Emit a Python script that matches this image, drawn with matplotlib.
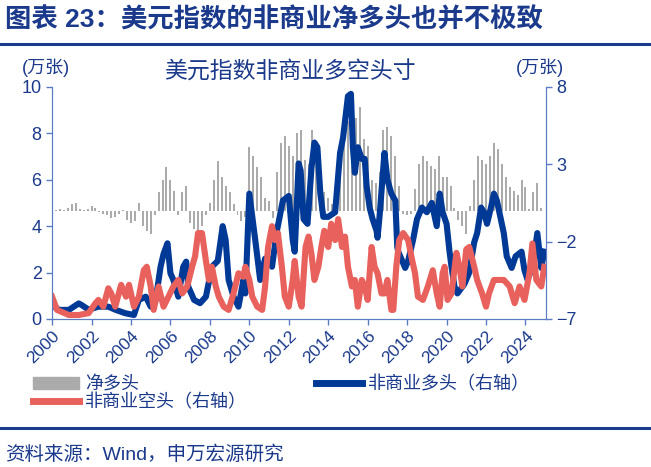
import matplotlib
matplotlib.use("Agg")
import matplotlib.pyplot as plt
import numpy as np
from matplotlib.patches import Patch
from matplotlib.lines import Line2D

plt.rcParams['font.family'] = ['Liberation Sans', 'Noto Sans CJK SC', 'DejaVu Sans']

# 净多头 (right axis, 万张), one bar every 0.2 year from 2000.0
net_start = 2000.0
net_step = 0.2
net = [0.1, 0.05, 0.1, 0.05, 0.15,
       0.4, 0.5, 0.1, 0.05, 0.1,
       0.3, 0.15, -0.1, -0.2, -0.3,
       -0.5, -0.4, -0.2, 0.05, -0.6,
       -0.8, -0.7, 0.5, -1.0, -1.3,
       -1.5, -0.3, 1.2, 2.0, 2.8,
       2.0, 1.3, -0.3, 1.2, 1.6,
       -0.8, -1.2, -1.4, -1.0, -0.3,
       0.5, 2.0, 3.2, 2.2, 1.6,
       1.2, 0.4, -0.3, -0.7, -0.4,
       4.1, 3.5, 2.8, 2.2, 0.8,
       0.6, -0.5, 2.5, 4.4, 4.8,
       4.2, 3.5, 5.0, 5.2, 3.3,
       3.0, 5.2, 3.5, 2.9, 1.2,
       0.8, 0.4, 0.4, 3.5, 5.4,
       5.8, 5.5, 6.0, 6.7, 4.6,
       4.2, 2.0, 1.8, 2.5, 5.2,
       5.4, 4.8, 3.5, 1.6, -0.2,
       -0.3, -0.2, 1.4, 3.0, 3.5,
       3.2, 2.9, 2.7, 3.5, 2.2,
       2.2, 1.6, 0.2, -0.6, -1.0,
       -1.5, 0.3, 2.0, 3.5, 3.3,
       3.0, 3.5, 4.4, 4.0, 3.0,
       2.2, 1.5, 1.3, 1.0, 2.0,
       1.5, 0.1, 1.2, 1.8, 0.2]
net_t = net_start + net_step * np.arange(len(net))

# 非商业多头 (left scale, 万张)
long_t = [2000.0, 2000.35, 2000.85, 2001.35, 2001.5, 2001.85, 2002.35, 2002.85, 2003.2, 2003.7,
          2004.15, 2004.4, 2004.75, 2005.0, 2005.25, 2005.5, 2005.65, 2005.85, 2006.0, 2006.15,
          2006.4, 2006.65, 2006.8, 2006.9, 2007.2, 2007.5, 2007.8, 2008.1, 2008.4, 2008.65,
          2008.8, 2008.95, 2009.2, 2009.45, 2009.7, 2009.8, 2010.0, 2010.3, 2010.55, 2010.8,
          2011.0, 2011.15, 2011.4, 2011.7, 2012.0, 2012.2, 2012.3, 2012.5, 2012.6, 2012.75,
          2012.95, 2013.15, 2013.3, 2013.45, 2013.6, 2013.75, 2014.0, 2014.35, 2014.6, 2014.75,
          2015.0, 2015.15, 2015.25, 2015.35, 2015.5, 2015.7, 2015.85, 2015.95, 2016.1, 2016.25,
          2016.45, 2016.5, 2016.6, 2016.85, 2017.0, 2017.2, 2017.4, 2017.5, 2017.55, 2017.75,
          2017.9, 2018.05, 2018.3, 2018.5, 2018.75, 2019.0, 2019.25, 2019.5, 2019.65, 2019.8,
          2020.0, 2020.15, 2020.25, 2020.4, 2020.55, 2020.9, 2021.15, 2021.4, 2021.55, 2021.75,
          2021.9, 2022.05, 2022.25, 2022.4, 2022.55, 2022.75, 2022.9, 2023.05, 2023.3, 2023.5,
          2023.8, 2023.95, 2024.1, 2024.35, 2024.6, 2024.8, 2024.95]
long_v = [0.6, 0.39, 0.39, 0.67, 0.6, 0.4, 0.53, 0.53, 0.4, 0.25,
          0.17, 0.82, 0.96, 0.53, 0.8, 2.25, 2.8, 3.26, 1.97, 1.68,
          0.96, 2.25, 2.47, 1.4, 0.82, 0.68, 0.96, 2.25, 2.5, 4.0,
          3.4, 1.68, 0.96, 0.53, 1.68, 1.1, 5.4, 3.4, 1.68, 2.6,
          2.6, 2.25, 3.8, 5.1, 5.3, 3.4, 2.9, 6.7, 6.4, 4.3,
          4.1, 6.5, 7.6, 7.4, 5.4, 4.4, 4.4, 4.6, 7.15, 7.8,
          9.6, 9.7, 7.4, 6.3, 7.4, 6.9, 6.9, 5.7, 4.8, 4.3,
          3.8, 3.5, 4.4, 7.15, 6.0, 5.4, 5.1, 3.1, 2.9, 2.5,
          2.2, 2.5, 3.4, 4.3, 4.8, 4.6, 5.0, 4.0, 5.4, 4.6,
          4.1, 2.9, 2.25, 1.4, 1.1, 1.5, 2.0, 3.3, 3.7, 4.8,
          4.6, 4.1, 4.8, 5.4, 5.1, 4.3, 3.7, 2.7, 2.2, 2.7,
          2.9, 2.1, 1.7, 2.2, 3.7, 2.2, 2.9]

# 非商业空头 (left scale, 万张)
short_t = [2000.0, 2000.25, 2000.85, 2001.35, 2001.85, 2002.2, 2002.35, 2002.6, 2002.85, 2003.0,
           2003.2, 2003.5, 2003.75, 2003.9, 2004.15, 2004.4, 2004.65, 2004.8, 2005.0, 2005.15,
           2005.4, 2005.65, 2005.9, 2006.15, 2006.4, 2006.6, 2006.85, 2007.1, 2007.25, 2007.4,
           2007.6, 2007.8, 2007.95, 2008.1, 2008.3, 2008.45, 2008.7, 2008.95, 2009.2, 2009.45,
           2009.7, 2009.8, 2010.0, 2010.15, 2010.4, 2010.65, 2010.8, 2010.95, 2011.15, 2011.3,
           2011.45, 2011.65, 2011.8, 2012.0, 2012.2, 2012.3, 2012.5, 2012.65, 2012.85, 2013.0,
           2013.15, 2013.3, 2013.5, 2013.65, 2013.8, 2014.0, 2014.15, 2014.35, 2014.5, 2014.7,
           2014.85, 2015.0, 2015.2, 2015.35, 2015.5, 2015.7, 2015.85, 2016.0, 2016.2, 2016.35,
           2016.5, 2016.7, 2016.85, 2017.0, 2017.2, 2017.3, 2017.45, 2017.6, 2017.8, 2018.05,
           2018.25, 2018.4, 2018.55, 2018.8, 2019.05, 2019.3, 2019.5, 2019.65, 2019.8, 2019.9,
           2020.05, 2020.25, 2020.5, 2020.65, 2020.8, 2021.0, 2021.15, 2021.4, 2021.55, 2021.8,
           2022.0, 2022.15, 2022.4, 2022.65, 2022.9, 2023.2, 2023.45, 2023.7, 2023.95, 2024.2,
           2024.35, 2024.55, 2024.8, 2024.95]
short_v = [0.96, 0.39, 0.17, 0.17, 0.25, 0.68, 0.82, 0.53, 1.32, 1.1,
           0.53, 1.47, 0.96, 1.47, 0.53, 0.96, 2.1, 2.25, 1.4, 0.39,
           1.4, 0.53, 0.96, 1.4, 1.68, 1.1, 1.4, 2.25, 2.7, 3.7,
           3.7, 2.5, 1.68, 2.25, 1.4, 0.96, 0.53, 0.39, 1.1, 1.97,
           1.82, 2.25, 1.68, 0.96, 0.53, 0.39, 1.4, 3.1, 4.0, 3.4,
           3.7, 2.25, 0.96, 0.53, 1.68, 2.5, 0.96, 0.53, 3.1, 3.55,
           2.8, 1.68, 2.25, 3.1, 3.8, 3.1, 4.1, 3.4, 4.3, 3.1,
           3.55, 2.25, 1.4, 1.68, 0.53, 1.68, 1.4, 0.82, 3.1, 2.25,
           1.97, 1.1, 1.1, 1.68, 0.39, 0.39, 2.25, 3.4, 3.7, 3.4,
           2.55, 1.97, 0.96, 0.82, 1.4, 2.1, 1.1, 0.53, 1.97, 2.25,
           0.82, 1.1, 2.85, 2.25, 1.4, 3.0, 3.1, 2.25, 1.68, 1.1,
           0.53, 1.1, 1.68, 1.68, 1.68, 1.4, 0.68, 1.4, 0.82, 1.97,
           3.25, 1.68, 1.4, 2.25]

year_ticks = list(range(2000, 2025, 2))
left_ticks = [0, 2, 4, 6, 8, 10]
right_ticks = [-7, -2, 3, 8]

navy = '#1B3A8C'
spine_c = '#5B7BC4'
blue = '#003A96'
red = '#E8615C'
grey = '#ABABAB'

fig = plt.figure(figsize=(6.51, 4.67), dpi=100)
ax = fig.add_axes([0.080, 0.317, 0.759, 0.497])
ax2 = ax.twinx()
ax.set_zorder(ax2.get_zorder() + 1)
ax.patch.set_visible(False)

ax2.bar(net_t, net, width=0.1, color=grey, linewidth=0)
ax.plot(long_t, long_v, color=blue, lw=4.4, solid_joinstyle='round')
ax.plot(short_t, short_v, color=red, lw=4.4, solid_joinstyle='round')

ax.set_xlim(2000, 2025.05)
ax.set_ylim(0, 10)
ax2.set_ylim(-7, 8)
ax.set_yticks(left_ticks)
ax2.set_yticks(right_ticks)
ax.set_xticks(year_ticks)
ax.set_xticklabels([str(y) for y in year_ticks], rotation=45, ha='right',
                   rotation_mode='anchor')

for a in (ax, ax2):
    for s in a.spines.values():
        s.set_color(spine_c)
    a.spines['top'].set_visible(False)
    a.tick_params(colors=spine_c, labelcolor=navy, labelsize=13, length=4, width=1)
ax.tick_params(axis='x', labelsize=12.5, pad=3)

fig.text(0.008, 0.957, '图表 23：美元指数的非商业净多头也并不极致', fontsize=19,
         fontweight='bold', color=navy, va='center', ha='left')
fig.add_artist(Line2D([0, 1], [0.905, 0.905], color=navy, lw=2.2))
fig.text(0.445, 0.846, '美元指数非商业多空头寸', fontsize=16.5, color=navy,
         ha='center', va='center')
fig.text(0.033, 0.855, '(万张)', fontsize=13, color=navy, va='center', ha='left')
fig.text(0.793, 0.855, '(万张)', fontsize=13, color=navy, va='center', ha='left')

handles = [Patch(color=grey), Line2D([], [], color=red, lw=5),
           Line2D([], [], color=blue, lw=5)]
labels = ['净多头', '非商业空头（右轴）', '非商业多头（右轴）']
fig.legend(handles, labels, ncol=2, loc='upper left', bbox_to_anchor=(0.05, 0.195),
           frameon=False, fontsize=13, labelcolor=navy, handlelength=2.6,
           handletextpad=0.3, columnspacing=3.8, labelspacing=0.05,
           borderaxespad=0, borderpad=0)

fig.add_artist(Line2D([0, 1], [0.083, 0.083], color=navy, lw=2.2))
fig.text(0.008, 0.027, '资料来源：Wind，申万宏源研究', fontsize=14, color=navy,
         va='center', ha='left')

fig.savefig('out.png', dpi=100)
